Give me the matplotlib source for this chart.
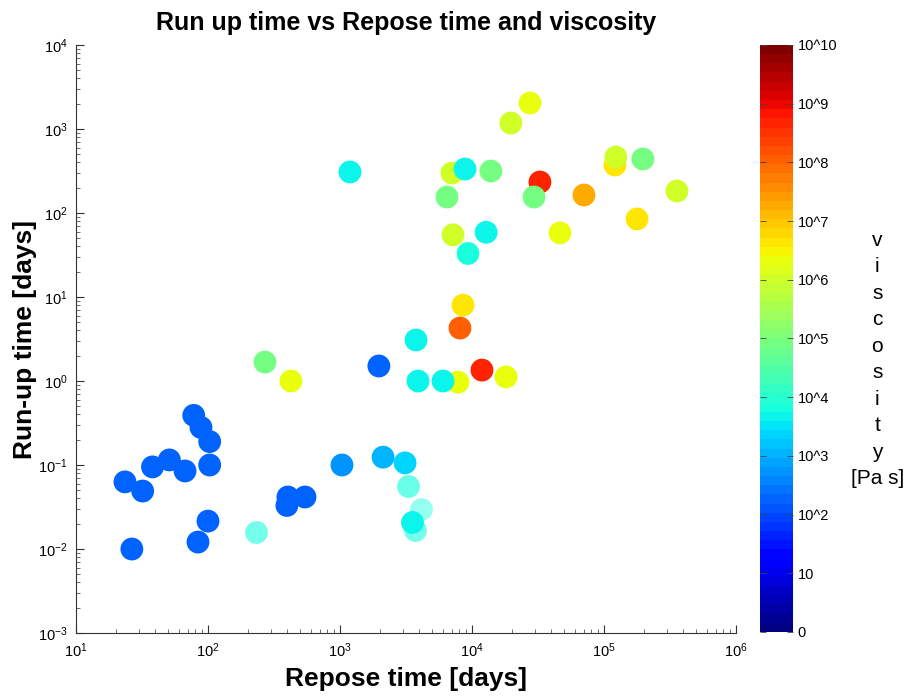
import numpy as np
import matplotlib
matplotlib.use("Agg")
import matplotlib.pyplot as plt
from matplotlib.ticker import FixedLocator, NullFormatter, LogFormatterSciNotation

plt.rcParams['font.family'] = ['Liberation Sans', 'DejaVu Sans']
plt.rcParams['mathtext.fontset'] = 'custom'
plt.rcParams['mathtext.rm'] = 'Liberation Sans'
plt.rcParams['mathtext.it'] = 'Liberation Sans'

# Eruption records: repose time [days], run-up time [days], log10 viscosity [Pa s]
repose_days = [
    23.5, 32, 38, 51, 67, 78, 88.5, 103, 103, 100, 84, 26.5,
    396, 403, 543, 1035, 270, 425, 1970, 2120, 3110,
    7830, 3900, 6030, 8550, 8110, 3770, 11900, 18100,
    1190, 27500, 19700, 7050, 8850, 13900, 6470, 32700, 29500,
    70500, 121000, 123000, 197000, 357000, 178000, 46400, 7180,
    12800, 9330,
]
runup_days = [
    0.063, 0.049, 0.095, 0.115, 0.085, 0.39, 0.28, 0.19, 0.10, 0.0215, 0.0121, 0.010,
    0.033, 0.0416, 0.0416, 0.10, 1.68, 1.0, 1.51, 0.124, 0.106,
    0.97, 1.0, 1.0, 8.0, 4.27, 3.08, 1.35, 1.12,
    308, 2040, 1180, 299, 334, 316, 155, 234, 155,
    164, 373, 464, 440, 183, 85, 58, 55,
    59, 33,
]
log_viscosity = [
    2.2, 2.2, 2.2, 2.2, 2.2, 2.2, 2.2, 2.2, 2.2, 2.2, 2.2, 2.2,
    2.2, 2.2, 2.2, 2.7, 4.9, 6.4, 2.2, 3.1, 3.4,
    6.4, 3.7, 3.7, 6.65, 8.0, 3.7, 8.6, 6.4,
    3.7, 6.3, 6.0, 6.0, 3.7, 4.9, 4.9, 8.6, 4.9,
    7.3, 6.65, 6.0, 4.9, 6.0, 6.65, 6.4, 6.0,
    3.7, 3.75,
]

# Poorly constrained events, drawn semi-transparent
faint_repose = [231, 3270, 4110, 3700]
faint_runup = [0.0159, 0.056, 0.030, 0.0168]
faint_viscosity = [3.8, 3.8, 3.8, 3.8]
faint_alpha = [0.6, 0.65, 0.45, 0.6]

# Last point drawn on top of the faint ones
top_repose = [3510]
top_runup = [0.021]
top_viscosity = [3.65]

x_decades = [1, 2, 3, 4, 5, 6]
y_decades = [-3, -2, -1, 0, 1, 2, 3, 4]
cbar_ticks = list(range(0, 11))
cbar_labels = ['0', '10'] + ['10^%d' % k for k in range(2, 11)]

cmap = plt.get_cmap('jet', 64)
norm = matplotlib.colors.Normalize(vmin=0, vmax=10)

fig = plt.figure(figsize=(9.10, 6.97), dpi=100)
ax = fig.add_axes([0.0835, 0.0918, 0.7253, 0.8436])
cax = fig.add_axes([0.835, 0.0933, 0.0363, 0.8422])

ms = 270
sc = ax.scatter(repose_days, runup_days, c=log_viscosity, cmap=cmap, norm=norm,
                s=ms, linewidths=0, zorder=2)
for x, y, v, a in zip(faint_repose, faint_runup, faint_viscosity, faint_alpha):
    ax.scatter([x], [y], color=cmap(norm(v)), alpha=a, s=ms, linewidths=0, zorder=3)
ax.scatter(top_repose, top_runup, c=top_viscosity, cmap=cmap, norm=norm,
           s=ms, linewidths=0, zorder=4)

ax.set_xscale('log')
ax.set_yscale('log')
ax.set_xlim(10, 1e6)
ax.set_ylim(1e-3, 1e4)


def minor_positions(decades):
    return [m * 10.0 ** d for d in decades[:-1] for m in range(2, 10)]


ax.xaxis.set_major_locator(FixedLocator([10.0 ** d for d in x_decades]))
ax.yaxis.set_major_locator(FixedLocator([10.0 ** d for d in y_decades]))
ax.xaxis.set_minor_locator(FixedLocator(minor_positions(x_decades)))
ax.yaxis.set_minor_locator(FixedLocator(minor_positions(y_decades)))
ax.xaxis.set_major_formatter(LogFormatterSciNotation())
ax.yaxis.set_major_formatter(LogFormatterSciNotation())
ax.xaxis.set_minor_formatter(NullFormatter())
ax.yaxis.set_minor_formatter(NullFormatter())
ax.tick_params(which='major', direction='in', length=6, width=0.8, labelsize=10.5,
               color='#333333', pad=6)
ax.tick_params(which='minor', direction='in', length=3, width=0.6, color='#555555')
ax.spines['top'].set_visible(False)
ax.spines['right'].set_visible(False)
for s in ('left', 'bottom'):
    ax.spines[s].set_color('#333333')
    ax.spines[s].set_linewidth(0.8)

ax.set_xlabel('Repose time [days]', fontsize=19, fontweight='bold', labelpad=5)
ax.set_ylabel('Run-up time [days]', fontsize=19, fontweight='bold', labelpad=1)
ax.set_title('Run up time vs Repose time and viscosity', fontsize=18,
             fontweight='bold', pad=11)

cb = fig.colorbar(sc, cax=cax)
cb.outline.set_visible(False)
cb.set_ticks(cbar_ticks)
cb.set_ticklabels(cbar_labels)
cax.tick_params(direction='in', length=4, width=0.6, labelsize=10.5,
                left=True, right=True, color='#444444')
cax.yaxis.set_minor_locator(FixedLocator([]))

fig.text(0.964, 0.484, 'v\ni\ns\nc\no\ns\ni\nt\ny\n[Pa s]', ha='center', va='center',
         fontsize=15, linespacing=1.5)

fig.savefig('out.png', dpi=100, facecolor='white')
